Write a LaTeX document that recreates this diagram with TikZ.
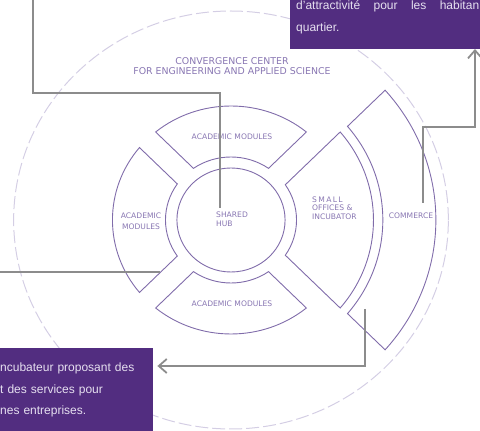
\documentclass[tikz,border=0pt]{standalone}
\usepackage{fontspec}
\newfontfamily\planfont{DejaVu Sans}
\newfontfamily\notefont{Liberation Sans}
\usetikzlibrary{arrows.meta,calc,positioning}

\definecolor{notepurple}{RGB}{82,45,128}
\definecolor{notetext}{RGB}{230,224,240}
\definecolor{planline}{RGB}{128,108,170}
\definecolor{plantext}{RGB}{136,118,178}
\definecolor{siteline}{RGB}{212,206,228}
\definecolor{linkgray}{RGB}{140,140,140}

\begin{document}
\begin{tikzpicture}
  [x=1pt, y=1pt,
   >={Straight Barb[length=8pt,width=14pt]},
   link/.style={draw=linkgray, line width=1.8pt},
   module/.style={draw=planline, line width=0.9pt},
   site/.style={draw=siteline, line width=1pt, dash pattern=on 13pt off 4pt},
   tag/.style={text=plantext, inner sep=0pt,
     font=\planfont\fontsize{7.6}{9}\selectfont},
   note/.style={fill=notepurple, text=notetext, align=left,
     inner xsep=6pt, inner ysep=15pt,
     font=\notefont\fontsize{12}{21.5}\selectfont}]
  \useasboundingbox (0,0) rectangle (480,431);
  \clip (0,0) rectangle (480,431);

  % site, hub and the ring of modules
  \begin{scope}[shift={(231,211)}, xscale=1.04]
    \draw[site] (0,0) circle (209);
    \draw[module] (0,0) circle (52);
    \foreach \dir/\ri/\ro/\g in {90/63/114/11, 180/63/114/11, 270/63/114/11,
                                 0/63/137/12, 0/146/197/13} {
      \pgfmathsetmacro\ai{45-asin(\g/\ri)}
      \pgfmathsetmacro\ao{45-asin(\g/\ro)}
      \draw[module] (\dir-\ai:\ri) -- (\dir-\ao:\ro)
        arc[start angle=\dir-\ao, end angle=\dir+\ao, radius=\ro]
        -- (\dir+\ai:\ri)
        arc[start angle=\dir+\ai, end angle=\dir-\ai, radius=\ri] -- cycle;
    }
  \end{scope}

  \node[tag, align=center, font=\planfont\fontsize{9.4}{10.5}\selectfont]
    (title) at (232,365) {CONVERGENCE CENTER\\FOR ENGINEERING AND APPLIED SCIENCE};
  \node[tag] (topmod) at (232,294) {ACADEMIC MODULES};
  \node[tag] (botmod) at (232,127) {ACADEMIC MODULES};
  \node[tag, align=center, font=\planfont\fontsize{7.6}{11}\selectfont]
    (leftmod) at (141,209.5) {ACADEMIC\\MODULES};
  \node[tag, align=left, anchor=west] (hub) at (216,211.5) {SHARED\\HUB};
  \node[tag, align=left, anchor=west, font=\planfont\fontsize{7.6}{8.7}\selectfont]
    (offices) at (312,223) {{\addfontfeatures{LetterSpace=18}SMALL}\\OFFICES \&\\INCUBATOR};
  \node[tag] (commerce) at (411,215) {COMMERCE};

  % notes
  \node[note, text width=183pt, anchor=south west] (topnote) at (290,382)
    {d’attractivité\hfill pour\hfill les\hfill habitan\\quartier.};
  \node[note, text width=147pt, anchor=north west] (botnote) at (-6,83)
    {ncubateur proposant des\\t des services pour\\nes entreprises.};

  % links
  \coordinate (drop) at (33,440);
  \coordinate (hubin) at (220,223);
  \coordinate (leftout) at (-5,159);
  \coordinate (leftin) at (160,159);
  \coordinate (commup) at (423,228);
  \coordinate (commdown) at (365,122);
  \draw[link] (drop) -- (drop |- 0,338) -| (hubin);
  \draw[link] (leftout) -- (leftin);
  \draw[link,->] (commup) |- (475,304) -- (475,304 |- topnote.south);
  \draw[link,->] (commdown) |- ($(botnote.north east)+(4,-18)$);
\end{tikzpicture}
\end{document}
